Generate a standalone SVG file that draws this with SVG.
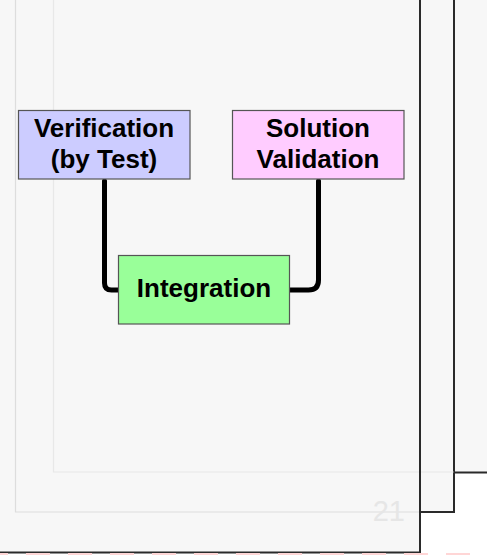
<svg xmlns="http://www.w3.org/2000/svg" width="487" height="555" viewBox="0 0 487 555">
  <style>
    .slide { fill: #f7f7f7; stroke: none; }
    .edge { stroke: #2a2a2a; stroke-width: 2; fill: none; }
    .faint { stroke: #dddddd; stroke-width: 1.2; fill: none; }
    .box { stroke: #555555; stroke-width: 1.2; }
    .label { font-family: "Liberation Sans", Arial, sans-serif; font-weight: bold; font-size: 26px; fill: #000000; text-anchor: middle; }
    .wire { stroke: #000000; stroke-width: 5; fill: none; stroke-linecap: round; stroke-linejoin: round; }
    .pageno { font-family: "Liberation Sans", Arial, sans-serif; font-size: 29px; fill: #e6e6e6; text-anchor: end; }
  </style>

  <!-- page background below the slide stack -->
  <rect x="0" y="0" width="487" height="555" fill="#ffffff"/>

  <!-- stacked slides: back, middle, front -->
  <g id="slide-back">
    <rect class="slide" x="53" y="-10" width="440" height="482"/>
    <path class="edge" d="M454 472.5 H490"/>
  </g>
  <g id="slide-middle">
    <rect class="slide" x="15" y="-10" width="439" height="522"/>
    <path class="edge" d="M454 -10 V512 H420"/>
  </g>
  <g id="slide-front">
    <rect class="slide" x="-10" y="-10" width="430" height="562"/>
    <!-- outlines of the slides behind, showing through -->
    <path class="faint" d="M15.5 -10 V512 H420"/>
    <path class="faint" d="M53.5 -10 V472 H454" stroke-opacity="0.6"/>
    <path class="edge" d="M420 -10 V552.5 H-10"/>
    <text class="pageno" x="405" y="521">21</text>
    <!-- descender of the title line above the visible area -->
    <text class="label" x="314" y="-5">y</text>
  </g>

  <!-- dashed strip along the bottom edge -->
  <path d="M-16 554 H487" stroke="#ffd6d6" stroke-width="2" stroke-dasharray="24 18" fill="none"/>

  <!-- connectors -->
  <g id="connectors">
    <path class="wire" d="M104.5 181 V283 Q104.5 290 111.5 290 H118"/>
    <path class="wire" d="M318.5 181 V280 Q318.5 290 308.5 290 H290"/>
  </g>

  <g id="verification">
    <rect class="box" x="18.5" y="110.5" width="171.5" height="68.5" fill="#ccccff"/>
    <text class="label" x="104" y="136.5">Verification</text>
    <text class="label" x="104" y="168">(by Test)</text>
  </g>

  <g id="solution-validation">
    <rect class="box" x="232.5" y="110.5" width="171.5" height="68.5" fill="#ffccff"/>
    <text class="label" x="318" y="136.5">Solution</text>
    <text class="label" x="318" y="168">Validation</text>
  </g>

  <g id="integration">
    <rect class="box" x="118.5" y="255.5" width="171" height="68.5" fill="#99ff99"/>
    <text class="label" x="204" y="297">Integration</text>
  </g>
</svg>
